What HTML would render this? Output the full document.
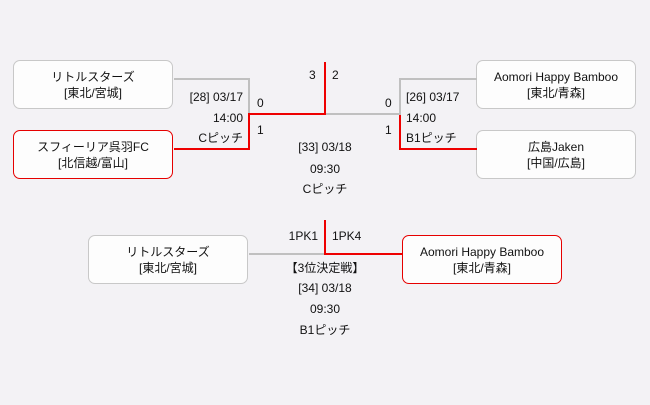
<!DOCTYPE html>
<html><head><meta charset="utf-8"><style>
body{margin:0;width:650px;height:405px;background:#f3f2f5;position:relative;overflow:hidden;font-family:"Liberation Sans","Noto Sans CJK JP",sans-serif;font-size:12px;color:#111}
.b{position:absolute;width:160px;height:49px;background:#fdfdfd;border:1px solid #c8c8c8;border-radius:7px;text-align:center;line-height:16px;box-sizing:border-box;padding-top:8px}
.r{border-color:#e60000}
.l{position:absolute;background:#c0c0c0}
.rd{position:absolute;background:#ee0000}
.t{position:absolute;line-height:14px;white-space:nowrap}
.c{position:absolute;width:200px;text-align:center;line-height:14px}
</style></head><body>
<div class="b" style="left:13px;top:60px">リトルスターズ<br>[東北/宮城]</div>
<div class="b r" style="left:13px;top:130px">スフィーリア呉羽FC<br>[北信越/富山]</div>
<div class="b" style="left:476px;top:60px">Aomori Happy Bamboo<br>[東北/青森]</div>
<div class="b" style="left:476px;top:130px">広島Jaken<br>[中国/広島]</div>
<div class="b" style="left:88px;top:235px">リトルスターズ<br>[東北/宮城]</div>
<div class="b r" style="left:402px;top:235px">Aomori Happy Bamboo<br>[東北/青森]</div>

<div class="l" style="left:174px;top:78px;width:76px;height:2px"></div>
<div class="l" style="left:248px;top:78px;width:2px;height:36px"></div>
<div class="rd" style="left:174px;top:148px;width:76px;height:2px"></div>
<div class="rd" style="left:248px;top:114px;width:2px;height:36px"></div>
<div class="rd" style="left:248px;top:113px;width:78px;height:2px"></div>
<div class="rd" style="left:324px;top:62px;width:2px;height:53px"></div>
<div class="l" style="left:326px;top:113px;width:75px;height:2px"></div>
<div class="l" style="left:399px;top:78px;width:2px;height:36px"></div>
<div class="l" style="left:399px;top:78px;width:78px;height:2px"></div>
<div class="rd" style="left:399px;top:115px;width:2px;height:35px"></div>
<div class="rd" style="left:399px;top:148px;width:78px;height:2px"></div>

<div class="l" style="left:249px;top:253px;width:76px;height:2px"></div>
<div class="rd" style="left:324px;top:220px;width:2px;height:35px"></div>
<div class="rd" style="left:324px;top:253px;width:78px;height:2px"></div>

<div class="t" style="left:309px;top:68px">3</div>
<div class="t" style="left:332px;top:68px">2</div>
<div class="t" style="right:407px;top:90px">[28] 03/17</div>
<div class="t" style="right:407px;top:111px">14:00</div>
<div class="t" style="right:407px;top:131px">Cピッチ</div>
<div class="t" style="left:257px;top:96px">0</div>
<div class="t" style="left:257px;top:123px">1</div>
<div class="t" style="left:385px;top:96px">0</div>
<div class="t" style="left:385px;top:123px">1</div>
<div class="t" style="left:406px;top:90px">[26] 03/17</div>
<div class="t" style="left:406px;top:111px">14:00</div>
<div class="t" style="left:406px;top:131px">B1ピッチ</div>
<div class="c" style="left:225px;top:140px">[33] 03/18</div>
<div class="c" style="left:225px;top:162px">09:30</div>
<div class="c" style="left:225px;top:182px">Cピッチ</div>

<div class="t" style="right:332px;top:229px">1PK1</div>
<div class="t" style="left:332px;top:229px">1PK4</div>
<div class="c" style="left:225px;top:261px">【3位決定戦】</div>
<div class="c" style="left:225px;top:281px">[34] 03/18</div>
<div class="c" style="left:225px;top:302px">09:30</div>
<div class="c" style="left:225px;top:323px">B1ピッチ</div>
</body></html>
